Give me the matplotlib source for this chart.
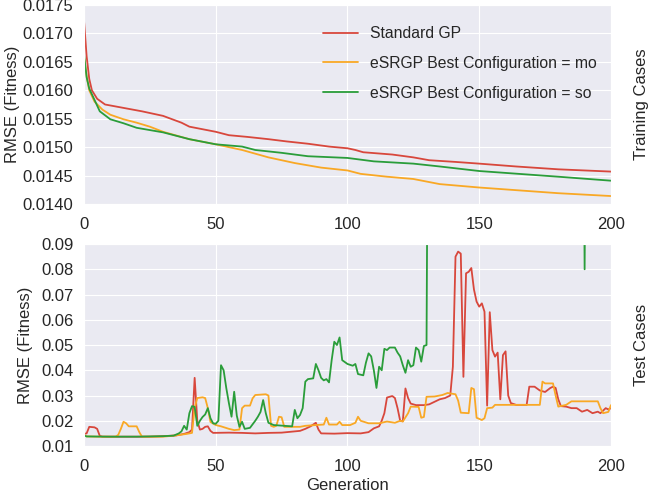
import matplotlib
matplotlib.use("Agg")
import matplotlib.pyplot as plt
import seaborn as sns

sns.set_style("darkgrid")
plt.rcParams['font.family'] = ['Liberation Sans', 'DejaVu Sans']

labels = ["Standard GP", "eSRGP Best Configuration = mo", "eSRGP Best Configuration = so"]
colors = ["#d8473c", "#f9a825", "#2a9d3a"]

# ---- Training cases (top panel) ----
train_red_g = [0, 1, 2, 3, 5, 8, 15, 22, 30, 37, 40, 50, 55, 62, 70, 77, 85, 93, 100, 103, 106,
               117, 125, 131, 141, 150, 164, 180, 190, 200]
train_red_v = [0.01723, 0.01660, 0.01620, 0.01600, 0.01585, 0.01575, 0.01569, 0.01563, 0.01555,
               0.01543, 0.01536, 0.01527, 0.01521, 0.01518, 0.01514, 0.01510, 0.01506, 0.01501,
               0.01498, 0.01495, 0.01491, 0.01487, 0.01482, 0.01477, 0.01474, 0.01471, 0.01466,
               0.01461, 0.01459, 0.01457]

train_mo_g = [0, 1, 2, 4, 7, 10, 15, 20, 25, 30, 40, 50, 55, 60, 70, 80, 90, 100, 105, 115,
              125, 135, 150, 165, 180, 200]
train_mo_v = [0.01660, 0.01625, 0.01600, 0.01580, 0.01566, 0.01557, 0.01549, 0.01543, 0.01536,
              0.01527, 0.01514, 0.01505, 0.01500, 0.01495, 0.01482, 0.01472, 0.01464, 0.01459,
              0.01453, 0.01448, 0.01444, 0.01435, 0.01429, 0.01424, 0.01419, 0.01414]

train_so_g = [0, 1, 2, 4, 6, 10, 15, 20, 30, 40, 50, 60, 65, 75, 85, 100, 110, 125, 135, 150,
              165, 180, 200]
train_so_v = [0.01663, 0.01623, 0.01603, 0.01583, 0.01563, 0.01549, 0.01542, 0.01534, 0.01526,
              0.01514, 0.01505, 0.01501, 0.01495, 0.01490, 0.01484, 0.01481, 0.01475, 0.01471,
              0.01466, 0.01458, 0.01453, 0.01448, 0.01441]

# ---- Test cases (bottom panel) ----
test_red_g = [0, 1, 2, 3, 4, 5, 6, 7, 15, 25, 30, 35, 38, 40, 41, 42, 43, 44, 45, 46, 47, 48, 49,
              55, 60, 65, 70, 75, 78, 82, 84, 86, 88, 89, 90, 95, 100, 105, 108, 110, 112, 113,
              114, 115, 117, 118, 119, 120, 121, 122, 123, 124, 126, 129, 131, 133, 135, 137, 139,
              140, 141, 142, 143, 144, 145, 146, 147, 148, 149, 150, 151, 152, 153, 154, 155, 156,
              157, 158, 159, 160, 161, 162, 164, 168, 169, 171, 173, 175, 177, 178, 179, 180, 181,
              183, 185, 187, 189, 191, 193, 195, 196, 198, 199, 200]
test_red_v = [0.0148, 0.0150, 0.0176, 0.0175, 0.0174, 0.0168, 0.0140, 0.0137, 0.0137, 0.0137,
              0.0139, 0.0142, 0.0148, 0.0155, 0.0165, 0.0370, 0.0200, 0.0165, 0.0168, 0.0176,
              0.0178, 0.0160, 0.0152, 0.0153, 0.0152, 0.0150, 0.0152, 0.0153, 0.0156, 0.0160,
              0.0168, 0.0178, 0.0192, 0.0165, 0.0150, 0.0149, 0.0151, 0.0150, 0.0155, 0.0170,
              0.0178, 0.0200, 0.0230, 0.0292, 0.0298, 0.0290, 0.0250, 0.0200, 0.0198, 0.0328,
              0.0290, 0.0268, 0.0262, 0.0262, 0.0265, 0.0275, 0.0285, 0.0290, 0.0300, 0.0414,
              0.0850, 0.0870, 0.0862, 0.0374, 0.0784, 0.0790, 0.0805, 0.0720, 0.0672, 0.0652,
              0.0665, 0.0632, 0.0260, 0.0630, 0.0480, 0.0454, 0.0470, 0.0285, 0.0460, 0.0475,
              0.0300, 0.0270, 0.0263, 0.0263, 0.0335, 0.0335, 0.0320, 0.0314, 0.0330, 0.0335,
              0.0330, 0.0285, 0.0258, 0.0256, 0.0250, 0.0250, 0.0236, 0.0243, 0.0230, 0.0236,
              0.0230, 0.0250, 0.0245, 0.0250]

test_mo_g = [0, 1, 5, 12, 13, 14, 15, 16, 17, 20, 21, 22, 30, 34, 39, 41, 42, 43, 45, 46, 47, 48,
             50, 52, 55, 57, 59, 60, 61, 63, 64, 65, 69, 70, 71, 72, 73, 74, 75, 76, 80, 82, 84,
             88, 91, 92, 93, 96, 97, 98, 101, 103, 104, 105, 108, 112, 115, 118, 120, 121, 123,
             124, 127, 128, 129, 130, 133, 136, 138, 141, 142, 143, 146, 147, 148, 149, 151, 152,
             153, 155, 156, 168, 173, 174, 175, 178, 179, 180, 183, 185, 195, 196, 197, 199, 200]
test_mo_v = [0.0144, 0.0138, 0.0137, 0.0137, 0.0144, 0.0168, 0.0196, 0.0190, 0.0178, 0.0178,
             0.0155, 0.0137, 0.0137, 0.0141, 0.0148, 0.0152, 0.0250, 0.0290, 0.0293, 0.0290,
             0.0250, 0.0195, 0.0183, 0.0178, 0.0168, 0.0163, 0.0165, 0.0250, 0.0260, 0.0260,
             0.0289, 0.0302, 0.0305, 0.0300, 0.0180, 0.0176, 0.0180, 0.0216, 0.0214, 0.0176,
             0.0176, 0.0176, 0.0180, 0.0183, 0.0185, 0.0212, 0.0185, 0.0185, 0.0196, 0.0183,
             0.0183, 0.0192, 0.0216, 0.0200, 0.0190, 0.0190, 0.0197, 0.0192, 0.0200, 0.0197,
             0.0230, 0.0256, 0.0255, 0.0212, 0.0215, 0.0295, 0.0296, 0.0302, 0.0310, 0.0305,
             0.0280, 0.0232, 0.0230, 0.0330, 0.0325, 0.0212, 0.0203, 0.0210, 0.0250, 0.0252,
             0.0263, 0.0263, 0.0263, 0.0355, 0.0348, 0.0348, 0.0300, 0.0256, 0.0263, 0.0277,
             0.0277, 0.0250, 0.0230, 0.0235, 0.0262]

test_so_g = [0, 1, 10, 20, 30, 34, 36, 37, 38, 39, 40, 41, 42, 43, 44, 45, 46, 47, 48, 49, 50,
             51, 52, 53, 54, 55, 56, 57, 58, 59, 60, 61, 63, 65, 66, 67, 68, 69, 70, 72, 76, 79,
             80, 81, 82, 83, 84, 85, 87, 88, 89, 90, 91, 92, 93, 94, 95, 96, 97, 98, 100, 102,
             103, 104, 106, 107, 108, 109, 110, 111, 112, 113, 114, 115, 116, 118, 119, 120, 121,
             122, 123, 124, 125, 126, 127, 128, 129, 130, 131, 189, 190, 191, 200]
test_so_v = [0.0142, 0.0138, 0.0137, 0.0137, 0.0139, 0.0141, 0.0150, 0.0158, 0.0180, 0.0165,
             0.0230, 0.0258, 0.0255, 0.0180, 0.0200, 0.0215, 0.0225, 0.0250, 0.0210, 0.0190,
             0.0188, 0.0200, 0.0420, 0.0400, 0.0330, 0.0270, 0.0216, 0.0315, 0.0220, 0.0176,
             0.0196, 0.0168, 0.0172, 0.0200, 0.0216, 0.0235, 0.0282, 0.0230, 0.0192, 0.0183,
             0.0180, 0.0178, 0.0243, 0.0210, 0.0223, 0.0250, 0.0355, 0.0365, 0.0368, 0.0425,
             0.0400, 0.0370, 0.0360, 0.0365, 0.0352, 0.0440, 0.0513, 0.0500, 0.0530, 0.0440,
             0.0425, 0.0418, 0.0425, 0.0385, 0.0380, 0.0430, 0.0467, 0.0455, 0.0400, 0.0330,
             0.0414, 0.0400, 0.0485, 0.0480, 0.0490, 0.0490, 0.0470, 0.0455, 0.0420, 0.0390,
             0.0440, 0.0414, 0.0420, 0.0490, 0.0480, 0.0434, 0.0496, 0.0500, 0.2500, 0.2500,
             0.0800, 0.2500, 0.2500]

train_yticks = [0.0140, 0.0145, 0.0150, 0.0155, 0.0160, 0.0165, 0.0170, 0.0175]
test_yticks = [0.01, 0.02, 0.03, 0.04, 0.05, 0.06, 0.07, 0.08, 0.09]
xticks = [0, 50, 100, 150, 200]

fig = plt.figure(figsize=(6.49, 4.93), dpi=100)
ax1 = fig.add_axes([0.1294, 0.5862, 0.812, 0.4037])
ax2 = fig.add_axes([0.1294, 0.0953, 0.812, 0.4097])

fs = 12
lw = 1.3
ax1.plot(train_red_g, train_red_v, color=colors[0], lw=lw, label=labels[0])
ax1.plot(train_mo_g, train_mo_v, color=colors[1], lw=lw, label=labels[1])
ax1.plot(train_so_g, train_so_v, color=colors[2], lw=lw, label=labels[2])
ax1.set_xlim(0, 200)
ax1.set_ylim(0.0140, 0.0175)
ax1.set_yticks(train_yticks)
ax1.set_yticklabels(["%.4f" % t for t in train_yticks])
ax1.set_xticks(xticks)
ax1.tick_params(axis="x", labelsize=fs, pad=6)
ax1.tick_params(axis="y", labelsize=fs, pad=4)
ax1.set_ylabel("RMSE (Fitness)", fontsize=fs, labelpad=2)
ax1.legend(loc="upper right", frameon=False, fontsize=11.3, labelspacing=0.95,
           handlelength=2.2, bbox_to_anchor=(1.0, 0.965))
ax1.text(1.057, 0.5, "Training Cases", transform=ax1.transAxes, rotation=90,
         ha="center", va="center", fontsize=fs)

ax2.plot(test_red_g, test_red_v, color=colors[0], lw=lw)
ax2.plot(test_mo_g, test_mo_v, color=colors[1], lw=lw)
ax2.plot(test_so_g, test_so_v, color=colors[2], lw=lw)
ax2.set_xlim(0, 200)
ax2.set_ylim(0.01, 0.09)
ax2.set_yticks(test_yticks)
ax2.set_yticklabels(["%.2f" % t for t in test_yticks])
ax2.set_xticks(xticks)
ax2.tick_params(axis="x", labelsize=fs, pad=6)
ax2.tick_params(axis="y", labelsize=fs, pad=4)
ax2.set_ylabel("RMSE (Fitness)", fontsize=fs, labelpad=6)
ax2.set_xlabel("Generation", fontsize=fs, labelpad=3)
ax2.text(1.057, 0.5, "Test Cases", transform=ax2.transAxes, rotation=90,
         ha="center", va="center", fontsize=fs)

fig.savefig("out.png", dpi=100)
